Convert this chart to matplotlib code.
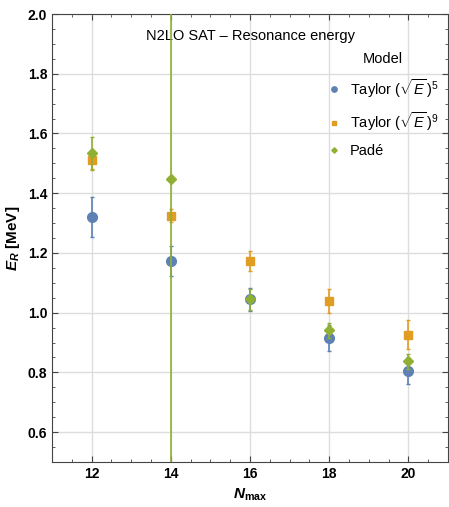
import matplotlib.pyplot as plt
from matplotlib.ticker import MultipleLocator

plt.rcParams['font.family'] = ['Liberation Sans', 'DejaVu Sans']
plt.rcParams['mathtext.fontset'] = 'custom'
plt.rcParams['mathtext.rm'] = 'Liberation Sans'
plt.rcParams['mathtext.it'] = 'Liberation Sans:italic'
plt.rcParams['mathtext.bf'] = 'Liberation Sans:bold'
plt.rcParams['mathtext.bfit'] = 'Liberation Sans:bold:italic'

# data
nmax = [12, 14, 16, 18, 20]
taylor5 = [1.320, 1.173, 1.045, 0.915, 0.804]
taylor5_err = [0.068, 0.050, 0.038, 0.045, 0.043]
taylor9 = [1.511, 1.324, 1.174, 1.040, 0.926]
taylor9_err = [0.030, 0.022, 0.033, 0.040, 0.048]
pade = [1.533, 1.447, 1.045, 0.941, 0.838]
pade_err = [0.055, 5.0, 0.035, 0.025, 0.025]

blue = '#5E81B5'
orange = '#E19C24'
green = '#8FB032'

fig = plt.figure(figsize=(4.49, 5.07), dpi=100)
ax = fig.add_axes([52/449, 45/507, 396/449, 448/507])

e1 = ax.errorbar(nmax, taylor5, yerr=taylor5_err, fmt='o', color=blue, ms=7,
                 elinewidth=1.2, capsize=1.5, zorder=3)
e2 = ax.errorbar(nmax, taylor9, yerr=taylor9_err, fmt='s', color=orange, ms=5.5,
                 elinewidth=1.2, capsize=1.5, zorder=4)
e3 = ax.errorbar(nmax, pade, yerr=pade_err, fmt='D', color=green, ms=5,
                 elinewidth=1.2, capsize=1.5, zorder=5)

ax.set_xlim(11, 21)
ax.set_ylim(0.5, 2.0)
ax.xaxis.set_major_locator(MultipleLocator(2))
ax.xaxis.set_minor_locator(MultipleLocator(0.5))
ax.yaxis.set_major_locator(MultipleLocator(0.2))
ax.yaxis.set_minor_locator(MultipleLocator(0.05))
ax.tick_params(which='both', direction='in', top=True, right=True, color='#444444')
ax.tick_params(which='major', length=4, labelsize=10)
ax.tick_params(which='minor', length=2)
for lab in ax.get_xticklabels():
    lab.set_fontweight('bold')
ax.set_yticks([0.6, 0.8, 1.0, 1.2, 1.4, 1.6, 1.8, 2.0])
ax.set_yticklabels(['0.6', '0.8', '1.0', '1.2', '1.4', '1.6', '1.8', '2.0'], fontweight='bold')
ax.grid(True, which='major', color='#dddddd', lw=1)
ax.set_axisbelow(True)
for s in ax.spines.values():
    s.set_color('#444444')

ax.set_xlabel(r'$\mathbfit{N}_{\mathbf{max}}$', fontsize=11)
ax.set_ylabel(r'$\mathbfit{E}_{\mathbfit{R}}$ [MeV]', fontsize=11, fontweight='bold')
ax.text(0.5, 0.95, 'N2LO SAT – Resonance energy', transform=ax.transAxes,
        ha='center', va='center', fontsize=10.5)

labels = [r'Taylor $(\sqrt{E}\,)^5$', r'Taylor $(\sqrt{E}\,)^9$', 'Padé']
ax.legend([e1[0], e2[0], e3[0]], labels, loc='upper left',
          bbox_to_anchor=(0.66, 0.945), frameon=False,
          title='Model', fontsize=10.5, title_fontsize=10.5, markerscale=0.55,
          handlelength=1.0, handletextpad=0.6, labelspacing=0.75)

fig.savefig('out.png', dpi=100)
